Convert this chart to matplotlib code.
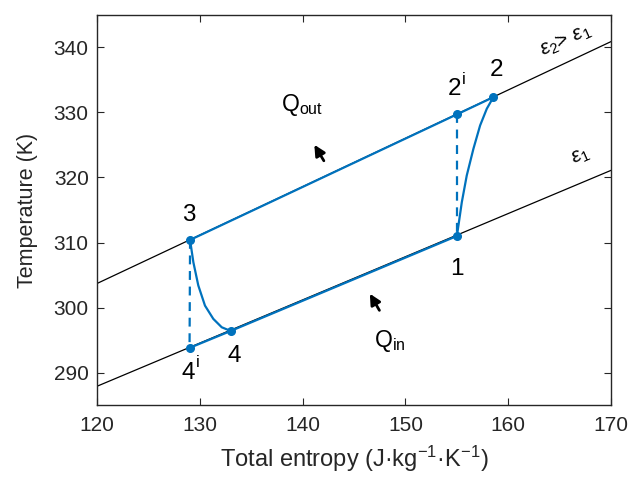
import matplotlib.pyplot as plt

plt.rcParams['font.family'] = ['Liberation Sans', 'DejaVu Sans']
plt.rcParams['mathtext.fontset'] = 'custom'
plt.rcParams['mathtext.rm'] = 'Liberation Sans'
plt.rcParams['mathtext.it'] = 'Liberation Sans:italic'

# isofield lines (black)
line_s = [120, 170]
low_T = [287.9, 321.1]
high_T = [303.7, 340.9]

# cycle points
s3, T3 = 129.05, 310.4
s2i, T2i = 155.0, 329.7
s2, T2 = 158.55, 332.35
s1, T1 = 155.0, 311.0
s4, T4 = 133.0, 296.4
s4i, T4i = 129.0, 293.8

# curved branches
curve21_s = [158.55, 157.91, 157.26, 156.61, 155.96, 155.48, 155.15, 155.0]
curve21_T = [332.35, 330.57, 328.0, 324.42, 320.3, 316.2, 312.6, 311.0]
curve34_s = [129.05, 129.37, 129.85, 130.5, 131.31, 132.13, 133.0]
curve34_T = [310.4, 306.97, 303.4, 300.3, 298.26, 296.97, 296.4]

blue = '#0072BD'
dark = '#262626'

fig = plt.figure(figsize=(6.3, 4.8), dpi=100)
ax = fig.add_axes([0.154, 0.156, 0.816, 0.813])

ax.plot(line_s, low_T, color='k', lw=0.9)
ax.plot(line_s, high_T, color='k', lw=0.9)

ax.plot([s3, s2i, s2], [T3, T2i, T2], color=blue, lw=1.6)
ax.plot([s4i, s4, s1], [T4i, T4, T1], color=blue, lw=1.6)
ax.plot(curve21_s, curve21_T, color=blue, lw=1.6)
ax.plot(curve34_s, curve34_T, color=blue, lw=1.6)
ax.plot([s2i, s1], [T2i, T1], color=blue, lw=1.6, ls=(0, (4, 3)))
ax.plot([s3, s4i], [T3, T4i], color=blue, lw=1.6, ls=(0, (4, 3)))

pts_s = [s3, s2i, s2, s1, s4, s4i]
pts_T = [T3, T2i, T2, T1, T4, T4i]
ax.plot(pts_s, pts_T, 'o', color=blue, ms=5.5, ls='none')

fs = 17.5
ax.text(128.95, 314.3, '3', fontsize=fs, ha='center', va='center')
ax.text(154.8, 333.6, '2', fontsize=fs, ha='center', va='center')
ax.text(155.65, 335.1, 'i', fontsize=12, ha='center', va='center')
ax.text(158.9, 336.5, '2', fontsize=fs, ha='center', va='center')
ax.text(155.0, 306.0, '1', fontsize=fs, ha='center', va='center')
ax.text(133.3, 292.6, '4', fontsize=fs, ha='center', va='center')
ax.text(128.9, 290.0, '4', fontsize=fs, ha='center', va='center')
ax.text(129.75, 291.5, 'i', fontsize=12, ha='center', va='center')

ax.text(137.9, 331.1, 'Q$_\\mathregular{out}$', fontsize=16.5, ha='left', va='center')
ax.text(146.9, 294.9, 'Q$_\\mathregular{in}$', fontsize=16.5, ha='left', va='center')

ax.annotate('', xy=(141.0, 325.4), xytext=(142.2, 322.2),
            arrowprops=dict(arrowstyle='-|>', color='k', lw=2, mutation_scale=16))
ax.annotate('', xy=(146.4, 302.5), xytext=(147.6, 299.2),
            arrowprops=dict(arrowstyle='-|>', color='k', lw=2, mutation_scale=16))

ax.text(165.6, 341.0, '$\\epsilon_2$> $\\epsilon_1$', fontsize=15,
        ha='center', va='center', rotation=24)
ax.text(167.0, 323.2, '$\\epsilon_1$', fontsize=15,
        ha='center', va='center', rotation=24)

ax.set_xlim(120, 170)
ax.set_ylim(285, 345)
ax.set_xticks([120, 130, 140, 150, 160, 170])
ax.set_yticks([290, 300, 310, 320, 330, 340])
ax.tick_params(direction='in', top=True, right=True, labelsize=15, length=5,
               width=0.8, colors=dark)
ax.tick_params(axis='x', pad=8)
ax.tick_params(axis='y', pad=6)
for sp in ax.spines.values():
    sp.set_linewidth(1.0)
    sp.set_color(dark)

ax.set_xlabel('Total entropy (J\u00b7kg$^\\mathregular{-1}$\u00b7K$^\\mathregular{-1}$)',
              fontsize=17, color=dark, labelpad=6)
ax.set_ylabel('Temperature (K)', fontsize=15.5, color=dark, labelpad=11)

fig.savefig('out.png', dpi=100)
